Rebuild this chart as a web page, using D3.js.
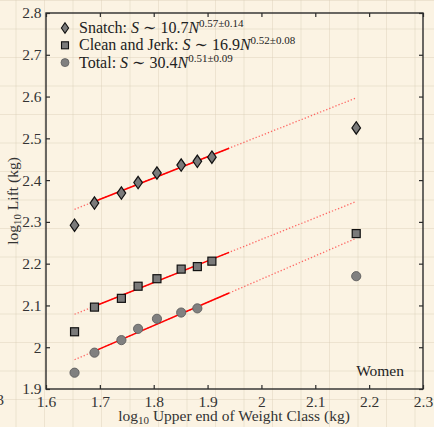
<!DOCTYPE html>
<html><head><meta charset="utf-8">
<script src="https://cdn.jsdelivr.net/npm/d3@7"></script>
<style>
html,body{margin:0;padding:0;background:#fbf3e3;}
svg{display:block;}
svg text{font-family:"Liberation Serif","DejaVu Serif",serif !important;}
</style></head>
<body>
<svg id="c" width="434" height="427"></svg>
<script>
// ---- data ----
const xTicks = [1.6,1.7,1.8,1.9,2.0,2.1,2.2,2.3];
const xTickLabels = ["1.6","1.7","1.8","1.9","2","2.1","2.2","2.3"];
const yTicks = [1.9,2.0,2.1,2.2,2.3,2.4,2.5,2.6,2.7,2.8];
const yTickLabels = ["1.9","2","2.1","2.2","2.3","2.4","2.5","2.6","2.7","2.8"];

const snatchX = [1.653,1.690,1.740,1.771,1.806,1.851,1.881,1.908,2.176];
const snatchY = [2.292,2.345,2.369,2.394,2.417,2.436,2.445,2.455,2.525];
const cjX     = [1.653,1.690,1.740,1.771,1.806,1.851,1.881,1.908,2.176];
const cjY     = [2.037,2.096,2.117,2.146,2.164,2.187,2.193,2.206,2.272];
const totalX  = [1.653,1.690,1.740,1.771,1.806,1.851,1.881,2.176];
const totalY  = [1.939,1.987,2.017,2.044,2.068,2.083,2.093,2.170];

// fitted lines in log space: y = intercept + slope * x
const fitIntercepts = [1.487, 1.226, 1.051];
const fitSlopes     = [0.510, 0.516, 0.556];
const fitRange   = [1.690, 1.940];
const extendRange = [1.653, 2.176];

const legendNames = ["Snatch: ","Clean and Jerk: ","Total: "];
const legendCoef  = ["10.7","16.9","30.4"];
const legendExp   = ["0.57±0.14","0.52±0.08","0.51±0.09"];

// ---- drawing ----
const svg = d3.select("#c");
const W = 434, H = 427;
const m = {l:46, r:423, t:13, b:389};
const x = d3.scaleLinear().domain([1.6,2.3]).range([m.l,m.r]);
const y = d3.scaleLinear().domain([1.9,2.8]).range([m.b,m.t]);

// paper background texture grid
const bg = svg.append("g");
bg.append("rect").attr("width",W).attr("height",H).attr("fill","#fbf3e3");
const step = 28.5;
for (let gx = 16; gx < W; gx += step) bg.append("line").attr("x1",gx).attr("x2",gx).attr("y1",0).attr("y2",H)
  .attr("stroke","#d9cdb6").attr("stroke-width",0.8).attr("opacity",0.5);
for (let gy = 0.5; gy < H; gy += step) bg.append("line").attr("y1",gy).attr("y2",gy).attr("x1",0).attr("x2",W)
  .attr("stroke","#d9cdb6").attr("stroke-width",0.8).attr("opacity",0.5);

// frame
svg.append("rect").attr("x",m.l).attr("y",m.t).attr("width",m.r-m.l).attr("height",m.b-m.t)
  .attr("fill","none").attr("stroke","#2b2b2b").attr("stroke-width",1.4);

// axes with inward ticks
const fmtX = (d,i)=>xTickLabels[i];
const fmtY = (d,i)=>yTickLabels[i];
function styleAxis(g){
  g.attr("font-family",null).attr("font-size",null);
  g.select(".domain").remove();
  g.selectAll(".tick line").attr("stroke","#2b2b2b").attr("stroke-width",1.2);
  g.selectAll("text").style("font-size","15.5px").attr("fill","#333");
}
svg.append("g").attr("transform",`translate(0,${m.b})`)
  .call(d3.axisBottom(x).tickValues(xTicks).tickFormat(fmtX).tickSizeInner(-4).tickPadding(7)).call(styleAxis);
svg.append("g").attr("transform",`translate(0,${m.t})`)
  .call(d3.axisTop(x).tickValues(xTicks).tickFormat("").tickSizeInner(-4)).call(styleAxis);
svg.append("g").attr("transform",`translate(${m.l},0)`)
  .call(d3.axisLeft(y).tickValues(yTicks).tickFormat(fmtY).tickSizeInner(-4).tickPadding(4.5)).call(styleAxis);
svg.append("g").attr("transform",`translate(${m.r},0)`)
  .call(d3.axisRight(y).tickValues(yTicks).tickFormat("").tickSizeInner(-4)).call(styleAxis);

// neighbouring panel's clipped label
svg.append("text").attr("x",4).attr("y",405).attr("text-anchor","end").style("font-size","15.5px").attr("fill","#333").text("2.3");

// fit lines
const line = d3.line().x(d=>x(d[0])).y(d=>y(d[1]));
fitIntercepts.forEach((a,i)=>{
  const b = fitSlopes[i];
  const ext = extendRange.map(v=>[v, a+b*v]);
  const fit = fitRange.map(v=>[v, a+b*v]);
  svg.append("path").attr("d",line(ext)).attr("fill","none").attr("stroke","#ff3a3a")
    .attr("stroke-width",1.3).attr("stroke-dasharray","1.3,2").attr("opacity",0.75);
  svg.append("path").attr("d",line(fit)).attr("fill","none").attr("stroke","#ff0000").attr("stroke-width",1.5);
});

// markers
const diamond = "M0,-6.2L4.3,0L0,6.2L-4.3,0Z";
function drawDiamond(g,cx,cy){ g.append("path").attr("d",diamond).attr("transform",`translate(${cx},${cy})`)
  .attr("fill","#7a7a7a").attr("stroke","#111").attr("stroke-width",1.2); }
function drawSquare(g,cx,cy){ g.append("rect").attr("x",cx-4).attr("y",cy-4).attr("width",8).attr("height",8)
  .attr("fill","#7a7a7a").attr("stroke","#111").attr("stroke-width",1.2); }
function drawCircle(g,cx,cy){ g.append("circle").attr("cx",cx).attr("cy",cy).attr("r",4.6)
  .attr("fill","#808080").attr("stroke","#5e5e5e").attr("stroke-width",0.9); }
const mk = svg.append("g");
snatchX.forEach((v,i)=>drawDiamond(mk,x(v),y(snatchY[i])));
cjX.forEach((v,i)=>drawSquare(mk,x(v),y(cjY[i])));
totalX.forEach((v,i)=>drawCircle(mk,x(v),y(totalY[i])));

// legend
const lg = svg.append("g");
legendNames.forEach((nm,i)=>{
  const ly = 28 + i*17.3;
  if (i===0) lg.append("path").attr("d","M0,-5.3L3.6,0L0,5.3L-3.6,0Z").attr("transform",`translate(65,${ly})`).attr("fill","#7a7a7a").attr("stroke","#111").attr("stroke-width",1.1);
  else if (i===1) lg.append("rect").attr("x",61.5).attr("y",ly-3.5).attr("width",7).attr("height",7).attr("fill","#7a7a7a").attr("stroke","#111").attr("stroke-width",1.1);
  else lg.append("circle").attr("cx",65).attr("cy",ly).attr("r",4).attr("fill","#808080").attr("stroke","#5e5e5e").attr("stroke-width",0.8);
  const t = lg.append("text").attr("x",79).attr("y",ly+5).style("font-size","16px").attr("fill","#222");
  t.append("tspan").text(nm);
  t.append("tspan").attr("font-style","italic").text("S");
  t.append("tspan").text(" ∼ " + legendCoef[i]);
  t.append("tspan").attr("font-style","italic").text("N");
  t.append("tspan").attr("dy",-6).style("font-size","11px").text(legendExp[i]);
});

// "Women" annotation
svg.append("text").attr("x",404).attr("y",376).attr("text-anchor","end").style("font-size","15.5px").attr("fill","#222").text("Women");

// axis labels
const xl = svg.append("text").attr("x",(m.l+m.r)/2 - 0.5).attr("y",421).attr("text-anchor","middle").style("font-size","15.5px").attr("fill","#333");
xl.append("tspan").text("log");
xl.append("tspan").attr("dy",3).style("font-size","11px").text("10");
xl.append("tspan").attr("dy",-3).text(" Upper end of Weight Class (kg)");
const yl = svg.append("text").attr("transform",`translate(18,${(m.t+m.b)/2}) rotate(-90)`).attr("text-anchor","middle").style("font-size","15.5px").attr("fill","#333");
yl.append("tspan").text("log");
yl.append("tspan").attr("dy",3).style("font-size","11px").text("10");
yl.append("tspan").attr("dy",-3).text(" Lift (kg)");
</script>
</body></html>
